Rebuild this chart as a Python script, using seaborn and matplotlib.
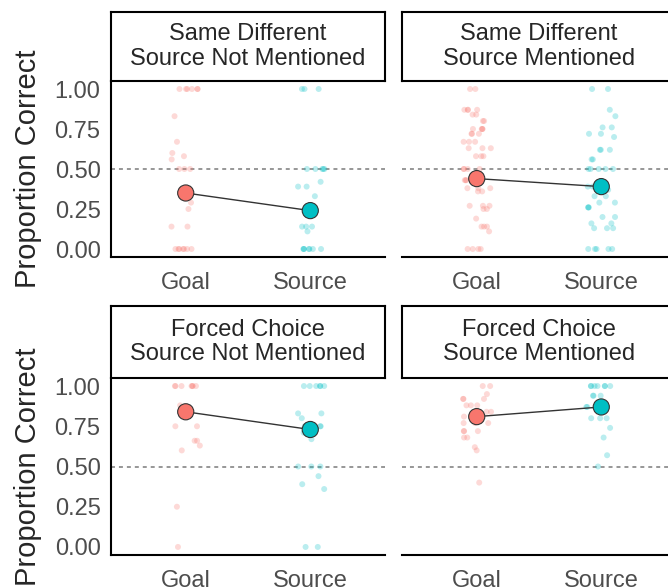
import numpy as np
import pandas as pd
import matplotlib
matplotlib.use("Agg")
import matplotlib.pyplot as plt
import seaborn as sns

# facets, in reading order
tasks = ["Same Different", "Same Different", "Forced Choice", "Forced Choice"]
mentions = ["Source Not Mentioned", "Source Mentioned", "Source Not Mentioned", "Source Mentioned"]
roles = ["Goal", "Source"]

# per-participant proportions
sd_snm_goal = [1, 1, 1, 1, 1, 1, 0.83, 0.67, 0.6, 0.58, 0.56, 0.5, 0.5, 0.5,
               0.29, 0.25, 0.14, 0.14, 0, 0, 0, 0, 0, 0, 0]
sd_snm_source = [1, 1, 1, 0.5, 0.5, 0.5, 0.5, 0.5, 0.42, 0.39, 0.39, 0.33,
                 0.14, 0.14, 0.14, 0.11, 0, 0, 0, 0, 0, 0, 0]
sd_sm_goal = [1, 1, 0.87, 0.87, 0.87, 0.87, 0.84, 0.84, 0.8, 0.8, 0.75, 0.75,
              0.75, 0.75, 0.72, 0.72, 0.72, 0.67, 0.67, 0.67, 0.63, 0.63, 0.63,
              0.58, 0.58, 0.58, 0.5, 0.5, 0.5, 0.5, 0.43, 0.43, 0.43, 0.38,
              0.38, 0.38, 0.36, 0.36, 0.27, 0.27, 0.27, 0.25, 0.25, 0.19, 0.14,
              0.14, 0.14, 0.11, 0, 0, 0, 0]
sd_sm_source = [1, 1, 0.87, 0.83, 0.76, 0.76, 0.72, 0.72, 0.7, 0.62, 0.62, 0.62,
                0.56, 0.56, 0.5, 0.5, 0.5, 0.5, 0.5, 0.39, 0.39, 0.37, 0.37,
                0.37, 0.33, 0.33, 0.29, 0.29, 0.26, 0.26, 0.26, 0.2, 0.2, 0.16,
                0.16, 0.13, 0.13, 0.13, 0, 0, 0, 0, 0]
fc_snm_goal = [1, 1, 1, 1, 1, 1, 1, 0.88, 0.84, 0.75, 0.75, 0.66, 0.66, 0.63,
               0.6, 0.25, 0]
fc_snm_source = [1, 1, 1, 1, 1, 1, 0.83, 0.83, 0.8, 0.75, 0.75, 0.75, 0.71,
                 0.71, 0.67, 0.5, 0.5, 0.5, 0.44, 0.39, 0.36, 0, 0]
fc_sm_goal = [1, 1, 0.95, 0.92, 0.92, 0.92, 0.88, 0.88, 0.88, 0.84, 0.84, 0.84,
              0.81, 0.81, 0.77, 0.77, 0.77, 0.72, 0.72, 0.72, 0.68, 0.68, 0.62,
              0.6, 0.4]
fc_sm_source = [1, 1, 1, 1, 1, 1, 1, 0.94, 0.94, 0.94, 0.87, 0.87, 0.8, 0.8,
                0.8, 0.74, 0.68, 0.57, 0.5]

# condition means (big dots)
goal_means = [0.35, 0.44, 0.84, 0.81]
source_means = [0.24, 0.39, 0.73, 0.87]

points = [(sd_snm_goal, sd_snm_source), (sd_sm_goal, sd_sm_source),
          (fc_snm_goal, fc_snm_source), (fc_sm_goal, fc_sm_source)]

palette = {"Goal": "#F8766D", "Source": "#00BFC4"}

sns.set_style("white")
plt.rcParams["font.family"] = ["Liberation Sans", "DejaVu Sans"]

W, H = 668, 588
fig = plt.figure(figsize=(W / 100, H / 100), dpi=100)

col_x = [111, 402]
panel_w = 274
rows = [(81, 257, 12), (378, 555, 306)]  # panel top, panel bottom, strip top

np.random.seed(3)

for i in range(4):
    r, c = divmod(i, 2)
    ptop, pbot, stop = rows[r]
    x0 = col_x[c]

    ax = fig.add_axes([x0 / W, 1 - pbot / H, panel_w / W, (pbot - ptop) / H])
    goal_vals, source_vals = points[i]
    df = pd.DataFrame({
        "role": ["Goal"] * len(goal_vals) + ["Source"] * len(source_vals),
        "prop": list(goal_vals) + list(source_vals),
    })

    ax.axhline(0.5, color="#7A7A7A", lw=1.1, ls=(0, (2.6, 2.6)), zorder=1)
    sns.stripplot(data=df, x="role", y="prop", hue="role", order=roles,
                  palette=palette, jitter=0.12, size=4.3, alpha=0.27,
                  linewidth=0, legend=False, ax=ax, zorder=2)

    xs = [roles.index("Goal"), roles.index("Source")]
    ms = [goal_means[i], source_means[i]]
    ax.plot(xs, ms, color="#333333", lw=1.0, zorder=3)
    ax.scatter(xs, ms, s=135, c=[palette["Goal"], palette["Source"]],
               edgecolors="#333333", linewidths=0.8, zorder=4)

    ax.set_xlim(-0.6, 1.6)
    ax.set_ylim(-0.05, 1.05)
    ax.set_xlabel("")
    ax.set_ylabel("")
    ax.set_yticks([0, 0.25, 0.5, 0.75, 1.0])
    ax.set_yticklabels(["0.00", "0.25", "0.50", "0.75", "1.00"])
    ax.tick_params(axis="both", labelsize=17, labelcolor="#4D4D4D",
                   color="#333333", length=4, width=1.1, pad=3.5)
    ax.tick_params(axis="x", pad=6.5)
    for s in ["top", "right"]:
        ax.spines[s].set_visible(False)
    ax.spines["bottom"].set_linewidth(1.5)
    ax.spines["bottom"].set_color("black")
    if c == 0:
        ax.spines["left"].set_linewidth(1.5)
        ax.spines["left"].set_color("black")
    else:
        ax.spines["left"].set_visible(False)
        ax.tick_params(axis="y", left=False, labelleft=False)

    # facet strip
    sax = fig.add_axes([x0 / W, 1 - ptop / H, panel_w / W, (ptop - stop) / H])
    sax.set_xticks([])
    sax.set_yticks([])
    for s in sax.spines.values():
        s.set_linewidth(1.5)
        s.set_color("black")
    sax.text(0.5, 0.5, tasks[i] + "\n" + mentions[i], ha="center", va="center",
             fontsize=17, color="#262626", linespacing=1.15,
             transform=sax.transAxes)

    if c == 0:
        fig.text(28 / W, 1 - (ptop + pbot) / 2 / H, "Proportion Correct",
                 rotation=90, ha="center", va="center", fontsize=21)

fig.savefig("out.png", dpi=100)
